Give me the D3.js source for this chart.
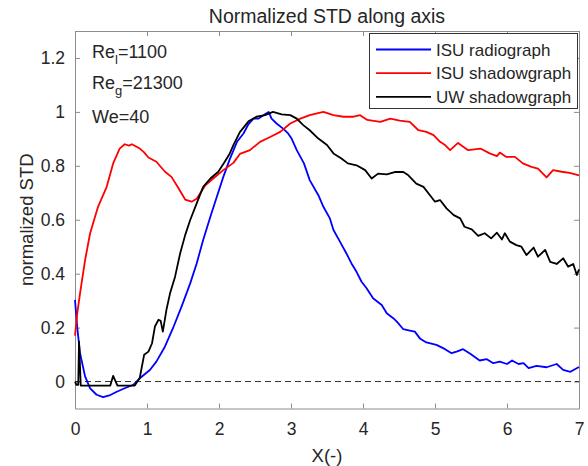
<!DOCTYPE html>
<html>
<head>
<meta charset="UTF-8">
<script src="https://d3js.org/d3.v7.min.js"></script>
<style>
  body { margin: 0; padding: 0; background: #fff; }
  text { font-family: "Liberation Sans", Arial, sans-serif; fill: #262626; }
</style>
</head>
<body>
<script>
// data
let xTicks = [0, 1, 2, 3, 4, 5, 6, 7]
let yTicks = [0, 0.2, 0.4, 0.6, 0.8, 1, 1.2]
let seriesNames = ["ISU radiograph", "ISU shadowgraph", "UW shadowgraph"]
let seriesColors = ["#0000ff", "#ff0000", "#000000"]

let isuRadio = [[0,0.303],[0.03,0.204],[0.07,0.105],[0.14,0.019],[0.21,-0.025],[0.30,-0.049],[0.39,-0.058],[0.49,-0.050],[0.58,-0.038],[0.69,-0.025],[0.81,-0.012],[0.90,0.012],[1.04,0.043],[1.13,0.074],[1.25,0.130],[1.37,0.204],[1.48,0.278],[1.60,0.364],[1.69,0.438],[1.78,0.525],[1.88,0.611],[1.97,0.685],[2.06,0.759],[2.15,0.825],[2.25,0.889],[2.34,0.920],[2.41,0.955],[2.48,0.975],[2.55,0.975],[2.62,0.988],[2.69,1.000],[2.73,0.975],[2.80,0.957],[2.89,0.938],[2.96,0.920],[3.01,0.900],[3.08,0.858],[3.18,0.809],[3.26,0.747],[3.38,0.691],[3.45,0.648],[3.54,0.605],[3.59,0.562],[3.68,0.519],[3.77,0.475],[3.84,0.438],[3.91,0.407],[3.98,0.370],[4.05,0.346],[4.14,0.309],[4.26,0.284],[4.33,0.253],[4.42,0.235],[4.47,0.222],[4.56,0.194],[4.65,0.189],[4.72,0.185],[4.79,0.160],[4.88,0.145],[5.02,0.136],[5.14,0.120],[5.23,0.105],[5.30,0.111],[5.39,0.120],[5.49,0.103],[5.62,0.078],[5.72,0.083],[5.81,0.068],[5.90,0.074],[6.00,0.065],[6.07,0.078],[6.16,0.065],[6.23,0.068],[6.30,0.050],[6.41,0.058],[6.55,0.053],[6.69,0.065],[6.78,0.043],[6.88,0.036],[7.00,0.054]]

let isuShadow = [[0,0.17],[0.03,0.25],[0.07,0.327],[0.14,0.45],[0.21,0.55],[0.32,0.648],[0.44,0.722],[0.53,0.809],[0.62,0.864],[0.69,0.88],[0.75,0.875],[0.79,0.88],[0.9,0.864],[0.96,0.85],[1.02,0.831],[1.13,0.815],[1.25,0.778],[1.34,0.759],[1.44,0.716],[1.53,0.675],[1.62,0.667],[1.69,0.678],[1.81,0.728],[1.92,0.753],[2.06,0.784],[2.2,0.811],[2.29,0.844],[2.43,0.858],[2.57,0.889],[2.71,0.907],[2.85,0.926],[2.99,0.957],[3.13,0.975],[3.26,0.988],[3.45,1.0],[3.59,0.988],[3.73,0.982],[3.87,0.982],[3.96,0.988],[4.06,0.97],[4.24,0.963],[4.38,0.975],[4.51,0.968],[4.65,0.963],[4.77,0.932],[4.88,0.926],[4.98,0.914],[5.07,0.889],[5.14,0.877],[5.21,0.858],[5.32,0.885],[5.46,0.858],[5.63,0.864],[5.76,0.846],[5.86,0.836],[5.9,0.849],[5.99,0.833],[6.11,0.833],[6.22,0.809],[6.34,0.796],[6.43,0.79],[6.55,0.757],[6.64,0.784],[6.76,0.778],[6.87,0.774],[7.0,0.765]]

let uwShadow = [[0,0.0],[0.02,-0.012],[0.045,-0.012],[0.056,0.148],[0.08,-0.015],[0.49,-0.015],[0.53,0.021],[0.59,-0.015],[0.83,-0.015],[0.9,0.014],[0.96,0.099],[1.02,0.111],[1.07,0.142],[1.11,0.204],[1.16,0.229],[1.19,0.225],[1.22,0.185],[1.27,0.266],[1.32,0.327],[1.39,0.389],[1.46,0.475],[1.53,0.543],[1.6,0.599],[1.69,0.661],[1.78,0.722],[1.88,0.753],[1.99,0.778],[2.08,0.815],[2.15,0.846],[2.2,0.877],[2.29,0.925],[2.41,0.965],[2.52,0.982],[2.64,0.988],[2.75,1.0],[2.87,0.991],[2.99,0.988],[3.08,0.975],[3.17,0.951],[3.26,0.932],[3.38,0.901],[3.5,0.877],[3.59,0.846],[3.7,0.827],[3.79,0.809],[3.91,0.802],[4.03,0.784],[4.12,0.753],[4.21,0.771],[4.33,0.768],[4.44,0.777],[4.56,0.777],[4.63,0.765],[4.74,0.734],[4.84,0.722],[4.93,0.691],[5.0,0.667],[5.07,0.673],[5.16,0.642],[5.26,0.617],[5.35,0.605],[5.41,0.574],[5.51,0.564],[5.6,0.54],[5.69,0.55],[5.78,0.531],[5.86,0.552],[5.93,0.527],[5.97,0.55],[6.04,0.519],[6.13,0.506],[6.2,0.5],[6.27,0.469],[6.37,0.497],[6.43,0.463],[6.53,0.488],[6.6,0.444],[6.69,0.436],[6.78,0.457],[6.85,0.426],[6.92,0.436],[6.97,0.395],[7.0,0.416]]

let allSeries = [isuRadio, isuShadow, uwShadow]

let width = 588
let height = 466
let margin = { left: 75, right: 9, top: 31, bottom: 57.5 }

let svg = d3.select("body")
  .append("svg")
  .attr("width", width)
  .attr("height", height)

let x = d3.scaleLinear().domain([0, 7]).range([margin.left, width - margin.right])
let y = d3.scaleLinear().domain([-0.1, 1.3]).range([height - margin.bottom, margin.top])

let axisColor = "#8c8c8c"
let fmt = d3.format("~g")

function styleAxis(g) {
  g.select(".domain").attr("stroke", axisColor)
  g.selectAll(".tick line").attr("stroke", axisColor)
  g.selectAll(".tick text")
    .style("font-family", '"Liberation Sans", Arial, sans-serif')
    .style("font-size", "17.5px")
    .attr("fill", "#262626")
}

// bottom / left with labels, top / right ticks only
svg.append("g")
  .attr("transform", `translate(0,${y(-0.1)})`)
  .call(d3.axisBottom(x).tickValues(xTicks).tickFormat(fmt).tickSizeInner(-5).tickSizeOuter(0).tickPadding(14))
  .call(styleAxis)

svg.append("g")
  .attr("transform", `translate(0,${y(1.3)})`)
  .call(d3.axisTop(x).tickValues(xTicks).tickFormat("").tickSizeInner(-5).tickSizeOuter(0))
  .call(styleAxis)

svg.append("g")
  .attr("transform", `translate(${x(0)},0)`)
  .call(d3.axisLeft(y).tickValues(yTicks).tickFormat(fmt).tickSizeInner(-5).tickSizeOuter(0).tickPadding(10))
  .call(styleAxis)

svg.append("g")
  .attr("transform", `translate(${x(7)},0)`)
  .call(d3.axisRight(y).tickValues(yTicks).tickFormat("").tickSizeInner(-5).tickSizeOuter(0))
  .call(styleAxis)

// zero reference
svg.append("line")
  .attr("x1", x(0))
  .attr("x2", x(7))
  .attr("y1", y(0))
  .attr("y2", y(0))
  .attr("stroke", "#333")
  .attr("stroke-width", 1)
  .attr("stroke-dasharray", "6,4")

let line = d3.line()
  .x(d => x(d[0]))
  .y(d => y(d[1]))

svg.selectAll(".curve")
  .data(allSeries)
  .enter()
  .append("path")
  .attr("class", "curve")
  .attr("d", line)
  .attr("fill", "none")
  .attr("stroke", (d, i) => seriesColors[i])
  .attr("stroke-width", 1.8)
  .attr("stroke-linejoin", "round")

// title and axis labels
svg.append("text")
  .attr("x", (x(0) + x(7)) / 2)
  .attr("y", 23)
  .attr("text-anchor", "middle")
  .style("font-size", "19.5px")
  .text("Normalized STD along axis")

svg.append("text")
  .attr("x", (x(0) + x(7)) / 2)
  .attr("y", 462)
  .attr("text-anchor", "middle")
  .style("font-size", "18.5px")
  .text("X(-)")

svg.append("text")
  .attr("transform", `translate(33,${(y(-0.1) + y(1.3)) / 2}) rotate(-90)`)
  .attr("text-anchor", "middle")
  .style("font-size", "18.5px")
  .text("normalized STD")

// parameters
let params = [["Re", "l", "=1100"], ["Re", "g", "=21300"], ["We=40", "", ""]]
let paramY = [58, 89, 122.5]
params.forEach((p, i) => {
  let t = svg.append("text")
    .attr("x", 92)
    .attr("y", paramY[i])
    .style("font-size", "18px")
  t.append("tspan").text(p[0])
  if (p[1]) {
    t.append("tspan").attr("dy", 6).style("font-size", "13px").text(p[1])
    t.append("tspan").attr("dy", -6).text(p[2])
  }
})

// legend
let lg = svg.append("g")
lg.append("rect")
  .attr("x", 369.5)
  .attr("y", 33.5)
  .attr("width", 208)
  .attr("height", 75)
  .attr("fill", "#fff")
  .attr("stroke", "#333")
  .attr("stroke-width", 1)

seriesNames.forEach((name, i) => {
  let ly = 49.5 + i * 23.7
  lg.append("line")
    .attr("x1", 376)
    .attr("x2", 431)
    .attr("y1", ly)
    .attr("y2", ly)
    .attr("stroke", seriesColors[i])
    .attr("stroke-width", 1.8)
  lg.append("text")
    .attr("x", 436)
    .attr("y", ly + 6)
    .style("font-size", "17px")
    .text(name)
})
</script>
</body>
</html>
